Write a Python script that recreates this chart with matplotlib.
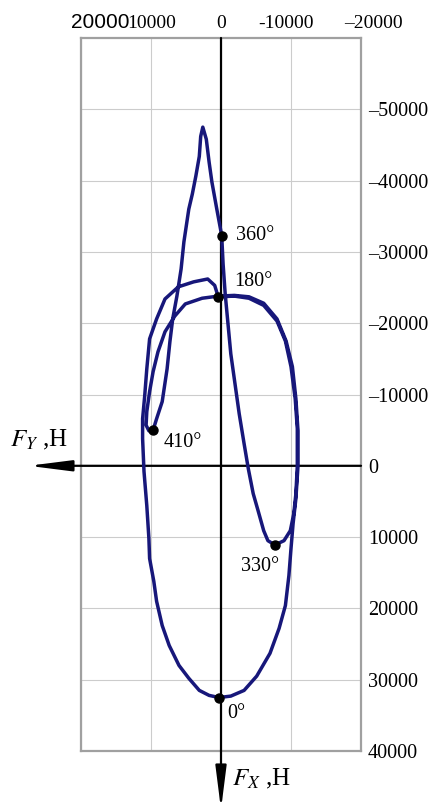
import matplotlib.pyplot as plt
import matplotlib.transforms as mtransforms

plt.rcParams['font.family'] = ['Liberation Serif', 'DejaVu Serif']
plt.rcParams['mathtext.fontset'] = 'stix'

# Полярная диаграмма нагрузки, Fy и Fx в Н (Fy откладывается влево, Fx вниз)
# 0 -> 180 град: левая сторона и верхняя дуга
fy_a = [300, 1700, 3100, 4600, 6000, 7400, 8400, 9200, 9600, 10200, 10300, 10600,
        11000, 11200, 11200, 10900, 10600, 10200, 9200, 8000, 6100, 3900, 1900, 900, 400]
fx_a = [32500, 32200, 31500, 29800, 28000, 25200, 22400, 19000, 16200, 13000, 10200, 5600,
        800, -3800, -6600, -9800, -13600, -17800, -20600, -23400, -25100, -25800, -26200, -25300, -23700]

# 180 -> 330 град: правая сторона и петля
fy_b = [400, -1900, -4000, -6100, -8000, -9200, -10000, -10600, -10900, -10900,
        -10700, -10400, -9900, -9000, -7700]
fx_b = [-23700, -23800, -23500, -22500, -20300, -17500, -13900, -9400, -5200, 0,
        3900, 6700, 9100, 10500, 11100]

# 330 -> 360 град
fy_c = [-7700, -6700, -6100, -5300, -4600, -3900, -3300, -2600, -2000, -1400, -1000, -600, -300, -100]
fx_c = [11100, 10500, 9100, 6300, 3900, 400, -3100, -7300, -11500, -15700, -19900, -24100, -28300, -32300]

# 360 -> 410 град (вспышка)
fy_d = [-100, 600, 1300, 1700, 2100, 2600, 2900, 3100, 3600, 4100, 4600, 5300, 5700,
        6300, 6900, 7300, 7700, 8400, 9200, 9700]
fx_d = [-32300, -36000, -39800, -42600, -45800, -47500, -46200, -43400, -40600, -38100, -36000,
        -31400, -27600, -23800, -20600, -17400, -13600, -9000, -6600, -5000]

# 410 -> 720 град
fy_e = [9700, 10300, 10700, 10600, 10200, 9700, 9000, 8000, 6600, 5100, 2700, 400, -1900,
        -4000, -6100, -8000, -9300, -10200, -10700, -11000, -11000, -10700, -10300, -10000,
        -9700, -9200, -8300, -7000, -5100, -3300, -1400, 300]
fx_e = [-5000, -4900, -5700, -7600, -10400, -13200, -16000, -18800, -21000, -22700, -23500, -23800,
        -23900, -23700, -22800, -20600, -17500, -13900, -9400, -4900, 0, 4600, 8100, 11600,
        15400, 19600, 22800, 26300, 29500, 31500, 32300, 32500]

# отмеченные углы поворота
angles = ['0°', '180°', '330°', '360°', '410°']
mark_fy = [300, 400, -7700, -100, 9700]
mark_fx = [32500, -23700, 11100, -32300, -5000]
label_offsets = [(8, -16), (16, 15), (-34, -22), (14, 0), (11, -12)]

fy = fy_a + fy_b[1:] + fy_c[1:] + fy_d[1:] + fy_e[1:]
fx = fx_a + fx_b[1:] + fx_c[1:] + fx_d[1:] + fx_e[1:]

x_ticks = [20000, 10000, 0, -10000, -20000]
x_labels = ['20000', '10000', '0', '-10000', '–20000']
y_ticks = [-50000, -40000, -30000, -20000, -10000, 0, 10000, 20000, 30000, 40000]
y_labels = ['–50000', '–40000', '–30000', '–20000', '–10000', '0', '10000', '20000', '30000', '40000']

fig = plt.figure(figsize=(4.34, 8.11), dpi=100)
ax = fig.add_axes([81 / 434, 60 / 811, 280 / 434, 713 / 811])

ax.set_xlim(20000, -20000)
ax.set_ylim(40000, -60000)

ax.xaxis.tick_top()
ax.yaxis.tick_right()
ax.set_xticks(x_ticks)
ax.set_xticklabels(x_labels)
ax.set_yticks(y_ticks)
ax.set_yticklabels(y_labels)
ax.tick_params(axis='x', length=0, labelsize=14, pad=4)
ax.tick_params(axis='y', length=0, labelsize=14.5, pad=5)

# верхние подписи сдвинуты относительно линий сетки
shifts = [19, 1, 0, -5, 12]
for lab, dx in zip(ax.xaxis.get_majorticklabels(), shifts):
    lab.set_transform(lab.get_transform() + mtransforms.ScaledTranslation(dx / 100, 0, fig.dpi_scale_trans))
first = ax.xaxis.get_majorticklabels()[0]
first.set_fontfamily('Liberation Sans')
first.set_fontsize(15)

ax.grid(color='#cccccc', lw=0.8)
ax.set_axisbelow(True)
for s in ax.spines.values():
    s.set_color('#a0a0a0')
    s.set_linewidth(1.6)

# оси со стрелками
arrow = dict(arrowstyle='-|>,head_length=2.6,head_width=0.33', mutation_scale=10,
             color='black', lw=1.6, shrinkA=0, shrinkB=0)
ax.annotate('', xy=(0, 48200), xytext=(0, -60000), annotation_clip=False, arrowprops=arrow)
ax.annotate('', xy=(27500, 0), xytext=(-20000, 0), annotation_clip=False, arrowprops=arrow)

ax.plot(fy, fx, color='#17177a', lw=2.5, solid_joinstyle='round', zorder=3)
ax.plot(mark_fy, mark_fx, 'o', color='black', markersize=6.5, zorder=4)

for a, x, y, off in zip(angles, mark_fy, mark_fx, label_offsets):
    ax.annotate(a, (x, y), xytext=off, textcoords='offset pixels',
                fontsize=14.5, ha='left', va='center', annotation_clip=False)

fig.text(10 / 434, 1 - 446 / 811, r'$F_Y$ ,Н', fontsize=18, ha='left', va='baseline')
fig.text(232 / 434, 1 - 785 / 811, r'$F_X$ ,Н', fontsize=18, ha='left', va='baseline')

fig.savefig('out.png', dpi=100)
